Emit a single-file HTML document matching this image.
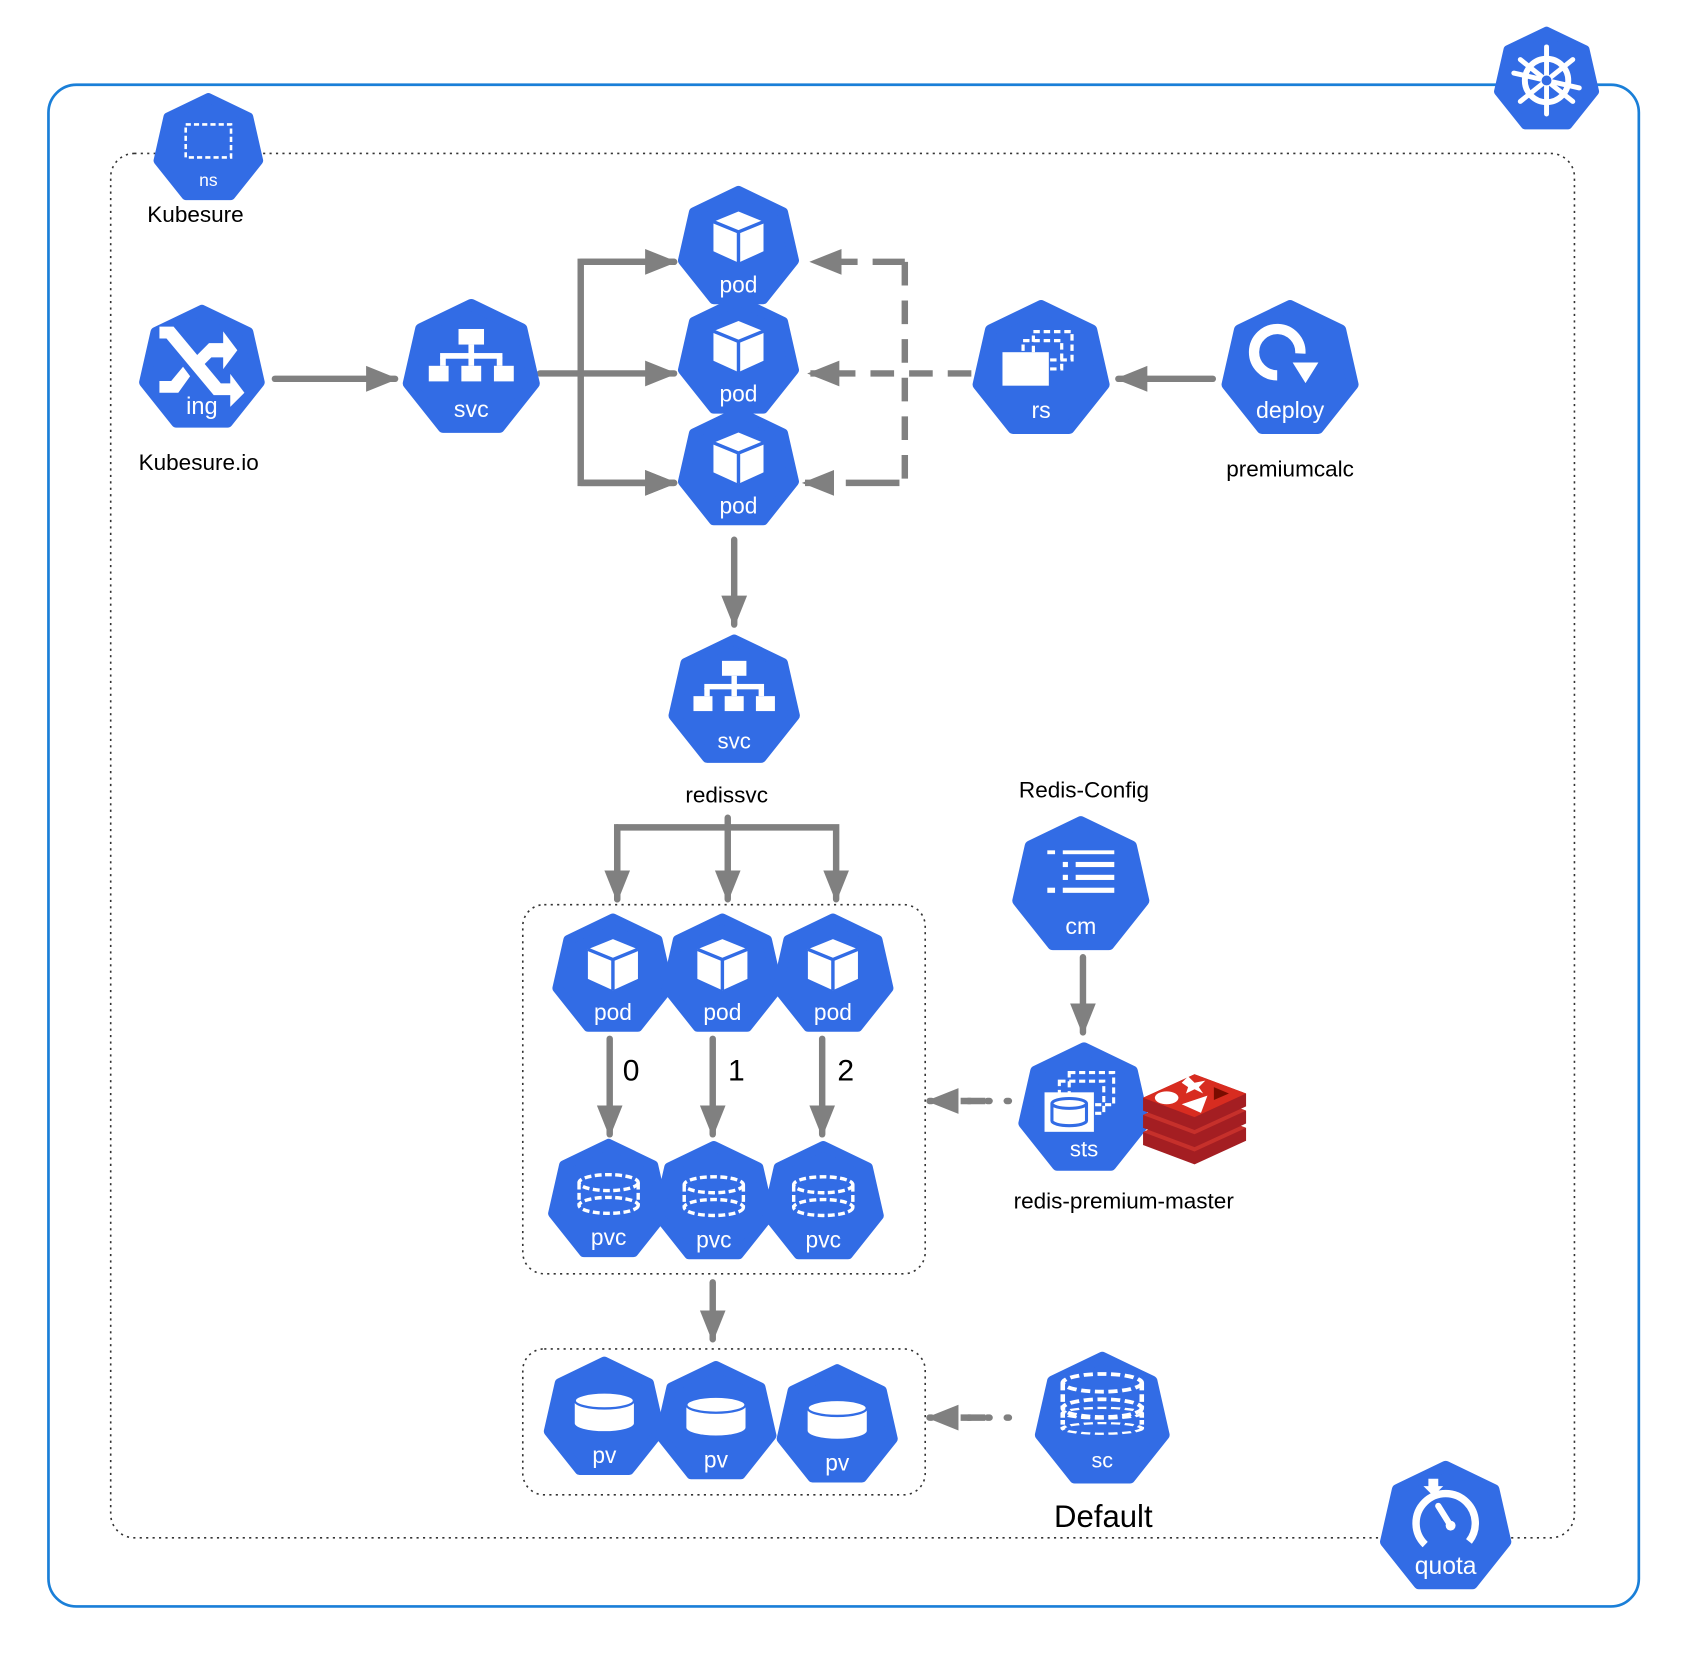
<!DOCTYPE html>
<html><head><meta charset="utf-8"><style>
html,body{margin:0;padding:0;background:#fff;}
svg{display:block;}
text{font-family:"Liberation Sans",sans-serif;}
</style></head><body>
<svg width="1683" height="1673" viewBox="0 0 1568 1559" xmlns="http://www.w3.org/2000/svg">
<defs>
<polygon id="hex" points="0,-50 39.1,-31.2 48.7,11.1 21.7,45 -21.7,45 -48.7,11.1 -39.1,-31.2" fill="#326ce5" stroke="#326ce5" stroke-width="9" stroke-linejoin="round"/>
<g id="cube"><path d="M0,-32 L22,-23 L22,3 L0,13 L-22,3 L-22,-23 Z" fill="#fff"/><path d="M-22,-23 L0,-14 L22,-23 M0,-14 L0,13" stroke="#326ce5" stroke-width="3" fill="none"/></g>
<g id="tree" fill="#fff"><rect x="-9" y="-32" width="18" height="11"/><rect x="-2" y="-21" width="4" height="7"/><rect x="-22" y="-15" width="44" height="4"/><rect x="-22" y="-12" width="4" height="6"/><rect x="-2" y="-12" width="4" height="6"/><rect x="18" y="-12" width="4" height="6"/><rect x="-30" y="-6" width="14" height="11"/><rect x="-7" y="-6" width="14" height="11"/><rect x="16" y="-6" width="14" height="11"/></g>
<g id="disk"><ellipse cx="0" cy="-20" rx="26" ry="7" fill="none" stroke="#fff" stroke-width="3" stroke-dasharray="6,3"/><path d="M-26,-20 V0 M26,-20 V0" stroke="#fff" stroke-width="3" stroke-dasharray="6,3"/><ellipse cx="0" cy="0" rx="26" ry="7" fill="none" stroke="#fff" stroke-width="3" stroke-dasharray="6,3"/></g>
<g id="pvdisk"><path d="M-26,-20 V0 A26,7 0 0 0 26,0 V-20 Z" fill="#fff"/><ellipse cx="0" cy="-20" rx="26" ry="7" fill="#fff" stroke="#326ce5" stroke-width="2"/></g>
<marker id="ah" viewBox="0 0 10 10" refX="9" refY="5" markerWidth="5" markerHeight="5" orient="auto" markerUnits="strokeWidth"><path d="M0,1 L10,5 L0,9 Z" fill="#808080"/></marker>
</defs>

<rect x="45" y="79" width="1482" height="1418" rx="26" fill="none" stroke="#1a7fd8" stroke-width="2.5"/>
<rect x="103" y="143" width="1364" height="1290" rx="22" fill="none" stroke="#333" stroke-width="1.5" stroke-dasharray="2,4"/>
<rect x="487" y="843" width="375" height="344" rx="20" fill="none" stroke="#333" stroke-width="1.5" stroke-dasharray="2,4"/>
<rect x="487" y="1257" width="375" height="136" rx="20" fill="none" stroke="#333" stroke-width="1.5" stroke-dasharray="2,4"/>

<g stroke="#808080" stroke-width="6" fill="none" stroke-linecap="round">
<line x1="256" y1="353" x2="368" y2="353" marker-end="url(#ah)"/>
<path d="M503,348 H541"/>
<path d="M628,244 H541 V450 H628" marker-end="url(#ah)"/>
<path d="M541,244 H628" marker-end="url(#ah)"/>
<path d="M541,348 H628" marker-end="url(#ah)"/>
<path d="M541,450 H628" marker-end="url(#ah)"/>
<path d="M905,348 H755" stroke-dasharray="22,14" stroke-linecap="butt" marker-end="url(#ah)"/>
<path d="M843,244 V450" stroke-dasharray="22,14" stroke-linecap="butt"/>
<path d="M843,244 H757" stroke-dasharray="30,14" stroke-linecap="butt" marker-end="url(#ah)"/>
<path d="M838,450 H750" stroke-dasharray="50,14" stroke-linecap="butt" marker-end="url(#ah)"/>
<line x1="1130" y1="353" x2="1042" y2="353" marker-end="url(#ah)"/>
<line x1="684" y1="503" x2="684" y2="582" marker-end="url(#ah)"/>
<path d="M575,838 V771 H779 V838" marker-end="url(#ah)"/>
<path d="M575,771 V838" marker-end="url(#ah)"/>
<path d="M678,762 V838" marker-end="url(#ah)"/>
<line x1="568" y1="968" x2="568" y2="1057" marker-end="url(#ah)"/>
<line x1="664" y1="968" x2="664" y2="1057" marker-end="url(#ah)"/>
<line x1="766" y1="968" x2="766" y2="1057" marker-end="url(#ah)"/>
<line x1="1009" y1="892" x2="1009" y2="962" marker-end="url(#ah)"/>
<path d="M940,1026 H866" stroke-dasharray="2,16" marker-end="url(#ah)"/>
<line x1="664" y1="1195" x2="664" y2="1248" marker-end="url(#ah)"/>
<path d="M940,1321 H866" stroke-dasharray="2,16" marker-end="url(#ah)"/>
</g>
<g stroke="#808080" stroke-width="6" fill="none"><path d="M918,1026 H895 M918,1321 H895"/></g>

<g font-size="20" fill="#fff" text-anchor="middle">
<g transform="translate(1441,75) scale(0.92)"><use href="#hex"/>
<g stroke="#fff" fill="none"><circle cx="0" cy="0" r="22" stroke-width="6"/><g stroke-width="5" stroke-linecap="round"><line x1="0" y1="-34" x2="0" y2="34"/><line x1="0" y1="-34" x2="0" y2="34" transform="rotate(51.4)"/><line x1="0" y1="-34" x2="0" y2="34" transform="rotate(102.8)"/><line x1="0" y1="-34" x2="0" y2="34" transform="rotate(-51.4)"/></g></g><circle r="5" fill="#326ce5"/></g>
<g transform="translate(194,139) scale(0.96)"><use href="#hex"/><rect x="-22" y="-24" width="44" height="32" fill="none" stroke="#fff" stroke-width="2.5" stroke-dasharray="5,3"/><text y="36" font-size="17">ns</text></g>
<g transform="translate(188,344) scale(1.1)"><use href="#hex"/>
<path d="M-30,-30 L-18,-30 L22,18 L30,18 L30,10 L42,26 L30,38 L30,28 L16,28 L-24,-20 L-30,-20 Z" fill="#fff" transform="translate(-6,-6)"/>
<path d="M-30,10 L-20,10 L-10,-2 L-4,6 L-14,20 L-30,20 Z M0,-10 L12,-22 L24,-22 L24,-32 L36,-16 L24,0 L24,-10 L14,-10 L6,-2 Z" fill="#fff" transform="translate(-6,0)"/>
<text y="38">ing</text></g>
<g transform="translate(439,344) scale(1.2)"><use href="#hex"/><use href="#tree" transform="translate(0,4) scale(1.1)"/><text y="37" font-size="18">svc</text></g>
<g transform="translate(688,231) scale(1.06)"><use href="#hex"/><use href="#cube"/><text y="39">pod</text></g>
<g transform="translate(688,333) scale(1.06)"><use href="#hex"/><use href="#cube"/><text y="39">pod</text></g>
<g transform="translate(688,437) scale(1.06)"><use href="#hex"/><use href="#cube"/><text y="39">pod</text></g>
<g transform="translate(970,345) scale(1.2)"><use href="#hex"/><rect x="-6" y="-30" width="30" height="22" fill="none" stroke="#fff" stroke-width="2.5" stroke-dasharray="5,3"/><rect x="-14" y="-23" width="30" height="22" fill="none" stroke="#fff" stroke-width="2.5" stroke-dasharray="5,3"/><rect x="-30" y="-14" width="36" height="26" fill="#fff"/><text y="37" font-size="18">rs</text></g>
<g transform="translate(1202,345) scale(1.2)"><use href="#hex"/><path d="M8,-5 A18,18 0 1 0 -10,12" fill="none" stroke="#fff" stroke-width="8" transform="translate(0,-8)"/><path d="M0,2 L20,2 L10,18 Z" fill="#fff" transform="translate(2,-8)"/><text y="37" font-size="18">deploy</text></g>
<g transform="translate(684,654) scale(1.15)"><use href="#hex"/><use href="#tree" transform="translate(0,2) scale(1.1)"/><text y="38" font-size="18">svc</text></g>
<g transform="translate(1007,826) scale(1.2)"><use href="#hex"/><g fill="#fff"><rect x="-26" y="-28" width="6" height="3"/><rect x="-14" y="-28" width="40" height="3"/><rect x="-14" y="-19" width="4" height="4"/><rect x="-4" y="-19" width="30" height="4"/><rect x="-14" y="-9" width="4" height="4"/><rect x="-4" y="-9" width="30" height="4"/><rect x="-26" y="1" width="6" height="4"/><rect x="-14" y="1" width="40" height="4"/></g><text y="37" font-size="18">cm</text></g>
<g transform="translate(571,909) scale(1.06)"><use href="#hex"/><use href="#cube"/><text y="39">pod</text></g>
<g transform="translate(673,909) scale(1.06)"><use href="#hex"/><use href="#cube"/><text y="39">pod</text></g>
<g transform="translate(776,909) scale(1.06)"><use href="#hex"/><use href="#cube"/><text y="39">pod</text></g>
<g transform="translate(567,1119) scale(1.06)"><use href="#hex"/><use href="#disk" transform="translate(0,4)"/><text y="39">pvc</text></g>
<g transform="translate(665,1121) scale(1.06)"><use href="#hex"/><use href="#disk" transform="translate(0,4)"/><text y="39">pvc</text></g>
<g transform="translate(767,1121) scale(1.06)"><use href="#hex"/><use href="#disk" transform="translate(0,4)"/><text y="39">pvc</text></g>
<g transform="translate(1010,1034) scale(1.15)"><use href="#hex"/><rect x="-12" y="-30" width="36" height="26" fill="none" stroke="#fff" stroke-width="2.5" stroke-dasharray="5,3"/><rect x="-20" y="-23" width="36" height="26" fill="none" stroke="#fff" stroke-width="2.5" stroke-dasharray="5,3"/><rect x="-32" y="-14" width="40" height="32" fill="#fff"/><ellipse cx="-12" cy="-5" rx="14" ry="4" fill="none" stroke="#326ce5" stroke-width="2.5"/><path d="M-26,-5 V9 A14,4 0 0 0 2,9 V-5" fill="none" stroke="#326ce5" stroke-width="2.5"/><text y="38" font-size="18">sts</text></g>
<g transform="translate(563,1322) scale(1.06)"><use href="#hex"/><use href="#pvdisk" transform="translate(0,4)"/><text y="39">pv</text></g>
<g transform="translate(667,1326) scale(1.06)"><use href="#hex"/><use href="#pvdisk" transform="translate(0,4)"/><text y="39">pv</text></g>
<g transform="translate(780,1329) scale(1.06)"><use href="#hex"/><use href="#pvdisk" transform="translate(0,4)"/><text y="39">pv</text></g>
<g transform="translate(1027,1324) scale(1.18)"><use href="#hex"/><g transform="translate(0,-10) scale(1.2,1)"><use href="#disk"/></g><g transform="translate(0,6) scale(1.2,0.6)"><use href="#disk"/></g><text y="37" font-size="17">sc</text></g>
<g transform="translate(1347,1424) scale(1.15)"><use href="#hex"/><circle cx="0" cy="-4" r="24" fill="none" stroke="#fff" stroke-width="6" stroke-dasharray="110,40" transform="rotate(135 0 -4)"/><path d="M-6,-18 L4,-2" stroke="#fff" stroke-width="5" stroke-linecap="round"/><circle cx="4" cy="-2" r="4" fill="#fff"/><path d="M-14,-40 L-6,-40 L-6,-34 L-2,-34 L-10,-26 L-18,-34 L-14,-34 Z" fill="#fff"/><text y="37">quota</text></g>
</g>

<g transform="translate(1113,1035)">
<path d="M-48,20 L0,-2 L48,16 L48,28 L0,50 L-48,32 Z" fill="#a41e22"/>
<path d="M-48,20 L0,-2 L48,16 L0,38 Z" fill="#c6302b"/>
<path d="M-48,4 L0,-18 L48,0 L48,12 L0,34 L-48,16 Z" fill="#a41e22"/>
<path d="M-48,4 L0,-18 L48,0 L0,22 Z" fill="#c6302b"/>
<path d="M-48,-12 L0,-34 L48,-16 L48,-4 L0,18 L-48,0 Z" fill="#a41e22"/>
<path d="M-48,-12 L0,-34 L48,-16 L0,6 Z" fill="#d82c20"/>
<ellipse cx="-26" cy="-12" rx="11" ry="6" fill="#fff"/>
<path d="M-12,-6 L12,-14 L6,2 Z" fill="#fff"/>
<path d="M-6,-32 L0,-26 L10,-28 L4,-22 L8,-16 L0,-20 L-8,-16 L-6,-22 L-12,-26 Z" fill="#fff"/>
<path d="M18,-22 L32,-16 L18,-10 Z" fill="#7a0c00"/>
</g>

<g fill="#000" text-anchor="middle" font-size="21">
<text x="182" y="207">Kubesure</text>
<text x="185" y="438">Kubesure.io</text>
<text x="1202" y="444">premiumcalc</text>
<text x="677" y="748">redissvc</text>
<text x="1010" y="743">Redis-Config</text>
<text x="1047" y="1126">redis-premium-master</text>
<text x="1028" y="1423" font-size="29">Default</text>
<text x="588" y="1007" font-size="28">0</text>
<text x="686" y="1007" font-size="28">1</text>
<text x="788" y="1007" font-size="28">2</text>
</g>
</svg>
</body></html>
